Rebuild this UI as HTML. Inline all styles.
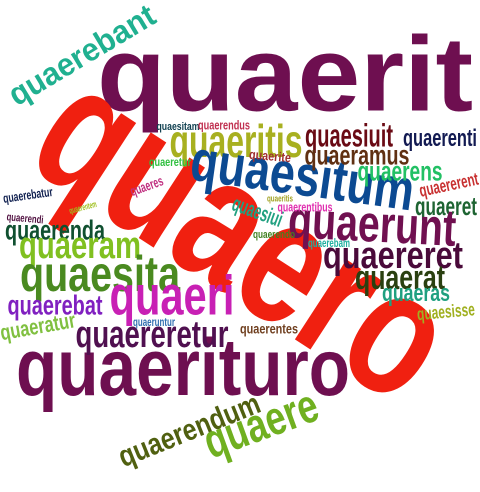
<!DOCTYPE html>
<html><head><meta charset="utf-8"><style>
html,body{margin:0;padding:0;background:#fff;width:480px;height:492px;overflow:hidden}
svg text{font-family:"Liberation Sans",Arial,sans-serif;font-weight:bold}
</style></head><body>
<svg id="cloud" width="480" height="492" viewBox="0 0 480 492" xmlns="http://www.w3.org/2000/svg"></svg>
<script>
const words = ["quaerit","quaero","quaerituro","quaerebant","quaeritis","quaesitum","quaesiuit","quaerenti","quaeramus","quaerens","quaererent","quaeret","quaerunt","quaereret","quaerat","quaeras","quaesisse","quaerenda","quaeram","quaesita","quaeri","quaerebat","quaeratur","quaereretur","quaeruntur","quaerentes","quaerendum","quaere","quaerebatur","quaerendi","quaesitam","quaerendus","quaerite","quaeretur","quaeres","quaesiui","quaerentibus","quaerebam","quaerendo","quaeritis","quaerentem"];
const sizes = [106,180,81,32,46,58,32,24,28,28,18,26,52,38,34,24,18,28,38,50,56,28,22,38,12,14,30,48,13,11,11,13,13,12,14,22,13,12,11,9,9];
const colors = ["#6e0f50","#f02010","#6e0f50","#20b090","#a8b020","#0c4a92","#6a0a14","#121a52","#603012","#22c064","#c83030","#1e6432","#701050","#4a0a3a","#2a4010","#20a080","#a0b020","#105030","#80c020","#4a8a20","#c820b4","#8020c0","#80c040","#501050","#3070b0","#704020","#506010","#70b020","#102050","#501040","#104050","#c03050","#a03030","#30c040","#c03080","#20a080","#e030b0","#20b0a0","#408020","#a0a020","#a0c020"];
// layout: [centerX, centerY, rotation, width]
const layout = [[285,83,0,376],[237,246,33,450],[183,374,0,334],[83,57,-31,165],[236,145,0,133],[302,180,8,225],[349,138,0,88],[440,140,0,74],[357,157,0,105],[400,173,0,85],[449,186,-12,60],[446,208,0,62],[372,228,3,168],[393,258,0,140],[400,280,0,90],[416,295,0,68],[446,313,-5,58],[55,232,0,100],[80,248,0,122],[100,278,0,160],[172,300,0,125],[55,307,0,95],[38,328,-10,76],[152,337,0,153],[154,323,0,42],[269,330,0,58],[190,432,-22,150],[262,427,-20,118],[28,196,-8,50],[25,219,5,37],[178,127,0,43],[224,126,0,52],[270,157,5,42],[170,163,0,42],[147,187,-20,34],[257,213,20,52],[305,208,0,55],[329,244,0,42],[274,235,0,42],[280,199,0,26],[83,208,-15,28]];
const svg = document.getElementById('cloud');
const NS = "http://www.w3.org/2000/svg";
for (let i = 0; i < words.length; i++) {
  const L = layout[i];
  const t = document.createElementNS(NS, 'text');
  
  
  t.setAttribute('transform', 'translate(' + L[0] + ',' + L[1] + ') rotate(' + L[2] + ')');
  t.setAttribute('x', 0);
  t.setAttribute('y', (sizes[i] * 0.26).toFixed(1));
  t.setAttribute('text-anchor', 'middle');
  t.setAttribute('font-size', sizes[i]);
  t.setAttribute('fill', colors[i]);
  t.setAttribute('textLength', L[3]);
  t.setAttribute('lengthAdjust', 'spacingAndGlyphs');
  t.textContent = words[i];
  svg.appendChild(t);
}
</script>
</body></html>
